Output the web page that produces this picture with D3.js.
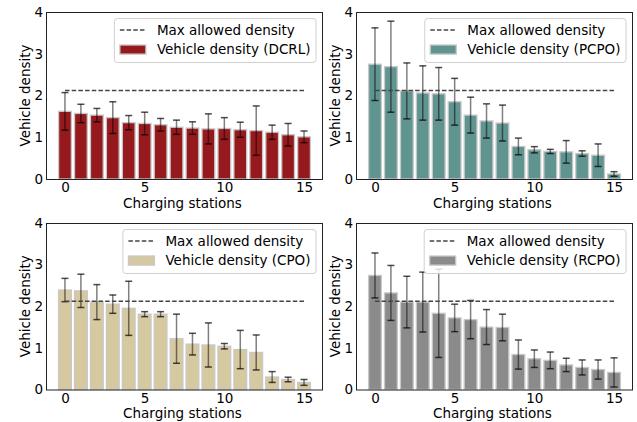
<!DOCTYPE html>
<html><head><meta charset="utf-8">
<script src="https://cdn.jsdelivr.net/npm/d3@7"></script>
<style>body{margin:0;background:#fff}svg{display:block}text{font-family:"DejaVu Sans",sans-serif;fill:#000}</style>
</head><body><svg id="c" width="637" height="422"></svg>
<script>
// ---- data ----
const stations = [0,1,2,3,4,5,6,7,8,9,10,11,12,13,14,15];
const xTickValues = [0,5,10,15];
const yTickValues = [0,1,2,3,4];
const maxAllowedDensity = 2.12;

const dcrlMean = [1.62,1.57,1.53,1.47,1.35,1.33,1.30,1.24,1.22,1.20,1.21,1.18,1.16,1.12,1.06,1.01];
const dcrlStd  = [0.45,0.22,0.16,0.38,0.17,0.27,0.15,0.17,0.15,0.36,0.26,0.18,0.59,0.17,0.27,0.14];

const pcpoMean = [2.75,2.69,2.11,2.06,2.04,1.85,1.53,1.39,1.34,0.78,0.70,0.66,0.65,0.61,0.57,0.12];
const pcpoStd  = [0.87,1.09,0.67,0.65,0.63,0.56,0.43,0.41,0.43,0.20,0.075,0.05,0.27,0.065,0.27,0.055];

const cpoMean = [2.39,2.37,2.10,2.05,1.95,1.81,1.81,1.22,1.09,1.07,1.04,0.96,0.89,0.30,0.24,0.17];
const cpoStd  = [0.28,0.40,0.42,0.22,0.65,0.06,0.06,0.59,0.26,0.53,0.065,0.46,0.42,0.13,0.055,0.07];

const rcpoMean = [2.74,2.32,2.10,2.10,1.83,1.72,1.68,1.50,1.49,0.84,0.74,0.70,0.59,0.53,0.48,0.41];
const rcpoStd  = [0.54,0.66,0.62,0.72,1.06,0.33,0.46,0.42,0.32,0.35,0.21,0.20,0.16,0.18,0.23,0.35];

const methodNames = ["DCRL","PCPO","CPO","RCPO"];
const lineLabel = "Max allowed density";
const xLabel = "Charging stations";
const yLabel = "Vehicle density";

// ---- layout ----
const panels = [
  {name:methodNames[0], mean:dcrlMean, std:dcrlStd, color:"#961a1d", x0:46,  x1:323, y0:12,  y1:179},
  {name:methodNames[1], mean:pcpoMean, std:pcpoStd, color:"#5f9490", x0:356, x1:633, y0:12,  y1:179},
  {name:methodNames[2], mean:cpoMean,  std:cpoStd,  color:"#d6c89f", x0:46,  x1:323, y0:223, y1:389.5},
  {name:methodNames[3], mean:rcpoMean, std:rcpoStd, color:"#8b8b8b", x0:356, x1:633, y0:223, y1:389.5}
];

const svg = d3.select("#c");
const FS = 13.5;

panels.forEach(p => {
  const x = d3.scaleLinear().domain([-1.19, 16.19]).range([p.x0, p.x1]);
  const y = d3.scaleLinear().domain([0, 4]).range([p.y1, p.y0]);
  const g = svg.append("g");
  const bw = x(0.4) - x(-0.4);

  // bars
  g.selectAll("rect.bar").data(stations).join("rect")
    .attr("class","bar")
    .attr("x", s => x(s) - bw/2)
    .attr("width", bw)
    .attr("y", (s,i) => y(p.mean[i]))
    .attr("height", (s,i) => y(0) - y(p.mean[i]))
    .attr("fill", p.color)
    .attr("stroke", "#c8c8c8")
    .attr("stroke-width", 1.3);

  // error bars
  const eb = g.append("g");
  eb.selectAll("line.v").data(stations).join("line")
    .attr("x1", s => x(s)).attr("x2", s => x(s))
    .attr("y1", (s,i) => y(p.mean[i] + p.std[i]))
    .attr("y2", (s,i) => y(p.mean[i] - p.std[i]))
    .attr("stroke", "#000").attr("stroke-opacity", 0.5).attr("stroke-width", 1.5);
  [1,-1].forEach(sign => {
    eb.selectAll("line.c" + (sign>0?"t":"b")).data(stations).join("line")
      .attr("x1", s => x(s) - 3.5).attr("x2", s => x(s) + 3.5)
      .attr("y1", (s,i) => y(p.mean[i] + sign*p.std[i]))
      .attr("y2", (s,i) => y(p.mean[i] + sign*p.std[i]))
      .attr("stroke", "#000").attr("stroke-opacity", 0.7).attr("stroke-width", 1.5);
  });

  // max allowed density line
  g.append("line")
    .attr("x1", x(stations[0])).attr("x2", x(stations[stations.length-1]))
    .attr("y1", y(maxAllowedDensity)).attr("y2", y(maxAllowedDensity))
    .attr("stroke", "#444").attr("stroke-width", 1.5).attr("stroke-dasharray", "4.5,2.2");

  // axes
  const xa = g.append("g").attr("transform", `translate(0,${p.y1})`)
    .call(d3.axisBottom(x).tickValues(xTickValues).tickSize(0).tickPadding(3.4).tickFormat(d3.format("d")));
  const ya = g.append("g").attr("transform", `translate(${p.x0},0)`)
    .call(d3.axisLeft(y).tickValues(yTickValues).tickSize(0).tickPadding(3).tickFormat(d3.format("d")));
  [xa, ya].forEach(a => {
    a.select(".domain").remove();
    a.attr("font-size", FS).attr("font-family", "DejaVu Sans");
    a.selectAll("text").attr("fill", "#000");
  });

  g.append("text").attr("x", (p.x0+p.x1)/2 - 2).attr("y", p.y1 + 28.8)
    .attr("text-anchor", "middle").attr("font-size", FS).text(xLabel);
  g.append("text").attr("transform", `translate(${p.x0 - 21},${(p.y0+p.y1)/2}) rotate(-90)`)
    .attr("text-anchor", "middle").attr("dy", "0.35em").attr("font-size", FS).text(yLabel);

  // legend
  const lg = g.append("g");
  const label2 = `Vehicle density (${p.name})`;
  const t1 = lg.append("text").attr("font-size", FS).text(lineLabel);
  const t2 = lg.append("text").attr("font-size", FS).text(label2);
  const tw = Math.max(t1.node().getComputedTextLength(), t2.node().getComputedTextLength());
  const pad = 5.5, hl = 26, htp = 11;
  const lw = pad + hl + htp + tw + pad;
  const lx = p.x1 - 7 - lw;
  const ly = p.y0 + 6.5;
  const lh = 44;
  lg.insert("rect", ":first-child")
    .attr("x", lx).attr("y", ly).attr("width", lw).attr("height", lh)
    .attr("rx", 3).attr("fill", "#fff").attr("fill-opacity", 0.8)
    .attr("stroke", "#d0d0d0").attr("stroke-width", 1);
  const r1 = ly + 11.5, r2 = ly + 31;
  lg.append("line").attr("x1", lx+pad).attr("x2", lx+pad+hl).attr("y1", r1).attr("y2", r1)
    .attr("stroke", "#444").attr("stroke-width", 1.5).attr("stroke-dasharray", "4.5,2.2");
  lg.append("rect").attr("x", lx+pad).attr("y", r2-4.5).attr("width", hl).attr("height", 9.1)
    .attr("fill", p.color).attr("stroke", "#c8c8c8").attr("stroke-width", 1.3);
  t1.attr("x", lx+pad+hl+htp).attr("y", r1).attr("dy", "0.35em");
  t2.attr("x", lx+pad+hl+htp).attr("y", r2).attr("dy", "0.35em");
  t1.raise(); t2.raise();

  // frame
  g.append("rect").attr("x", p.x0 + 0.5).attr("y", p.y0 + 0.5)
    .attr("width", p.x1 - p.x0 - 1).attr("height", p.y1 - p.y0)
    .attr("fill", "none").attr("stroke", "#222").attr("stroke-width", 1);
});
</script>
</body></html>
